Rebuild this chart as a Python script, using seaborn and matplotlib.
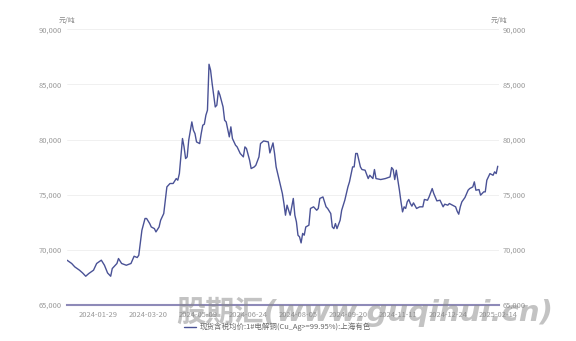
import matplotlib
matplotlib.use("Agg")
import matplotlib.pyplot as plt
import seaborn as sns
import pandas as pd
from matplotlib.ticker import FuncFormatter, FixedLocator

# trading-day index (0 = first trading day of 2024) and price
day_idx = [0, 3, 5, 8, 10, 12, 14, 17, 19, 22, 24, 26, 28, 29, 32, 33, 35, 38, 41, 43,
           45, 46, 48, 50, 51, 53, 54, 56, 57, 59, 60, 62, 64, 66, 68, 70, 71, 72, 74, 75,
           76, 77, 78, 80, 81, 82, 83, 85, 86, 87, 88, 89, 90, 91, 92, 93, 95, 96, 97, 98,
           100, 101, 102, 104, 105, 106, 108, 109, 111, 113, 114, 115, 117, 118, 120, 121, 123, 124, 126, 129,
           130, 132, 133, 134, 136, 138, 139, 140, 141, 142, 143, 145, 146, 147, 148, 149, 150, 151, 152, 153,
           155, 156, 158, 160, 161, 162, 164, 166, 167, 169, 170, 171, 172, 173, 175, 176, 178, 180, 181, 183,
           184, 185, 186, 188, 189, 191, 193, 194, 196, 197, 198, 201, 204, 207, 208, 209, 210, 211, 212, 213,
           214, 215, 216, 217, 218, 219, 220, 221, 222, 224, 226, 228, 229, 231, 232, 234, 235, 237, 239, 240,
           241, 242, 244, 245, 247, 249, 250, 251, 252, 253, 255, 257, 258, 260, 261, 262, 264, 265, 267, 268,
           269, 271, 273, 274, 275, 276]
price = [69030, 68730, 68420, 68120, 67870, 67570, 67820, 68120, 68730, 69030, 68570, 67870, 67570, 68270, 68730, 69180, 68730, 68570, 68730, 69390,
         69270, 69480, 71750, 72820, 72820, 72360, 72050, 71900, 71600, 72050, 72660, 73270, 75690, 76000, 76000, 76450, 76300, 76900, 80090, 79330,
         78270, 78420, 79940, 81600, 80840, 80540, 79780, 79630, 80540, 81300, 81390, 82210, 82660, 86840, 86300, 85090, 82960, 83120, 84420, 84030,
         82960, 81750, 81600, 80240, 81150, 80090, 79480, 79330, 78730, 78420, 79330, 79180, 78120, 77360, 77510, 77660, 78420, 79630, 79870, 79780,
         78780, 79690, 78730, 77510, 76300, 75090, 74180, 73120, 74030, 73570, 73120, 74640, 73120, 72510, 71300, 71150, 70600, 71460, 71300, 72050,
         72210, 73730, 73880, 73570, 73730, 74640, 74780, 73880, 73730, 73270, 72050, 71900, 72360, 71900, 72660, 73570, 74480, 75690, 76150, 77510,
         77510, 78730, 78730, 77510, 77270, 77210, 76450, 76750, 76450, 77270, 76450, 76360, 76450, 76600, 77450, 77270, 76360, 77210, 76300, 75390,
         74330, 73420, 73880, 73730, 74330, 74550, 74180, 73940, 74240, 73730, 73880, 73880, 74550, 74480, 74780, 75540, 75090, 74420, 74480, 74180,
         73880, 74120, 74030, 74180, 74030, 73880, 73480, 73210, 73880, 74330, 74730, 75390, 75540, 75690, 76150, 75390, 75450, 74940, 75240, 75240,
         76300, 76900, 76750, 77060, 76900, 77570]

tick_idx = [20, 52, 84, 116, 148, 180, 212, 244, 276]
tick_labels = ["2024-01-29", "2024-03-20", "2024-05-09", "2024-06-24", "2024-08-05",
               "2024-09-20", "2024-11-11", "2024-12-24", "2025-02-14"]
y_ticks = [65000, 70000, 75000, 80000, 85000, 90000]
series_name = "现货含税均价:1#电解铜(Cu_Ag>=99.95%):上海有色"
unit = "元/吨"
watermark = "股期汇(www.guqihui.cn)"

sns.set_theme(style="white")
plt.rcParams["font.family"] = ["Noto Sans CJK SC", "DejaVu Sans"]

df = pd.DataFrame({"day": day_idx, "price": price, "series": series_name})

fig = plt.figure(figsize=(5.76, 3.41), dpi=100)
ax = fig.add_axes([0.1163, 0.107, 0.7492, 0.8065])

line_color = "#4a5296"
sns.lineplot(data=df, x="day", y="price", hue="series", palette=[line_color],
             linewidth=1.0, ax=ax, legend=True)

ax.set_xlim(0, 276.5)
ax.set_ylim(65000, 90000)
ax.yaxis.set_major_locator(FixedLocator(y_ticks))
fmt = FuncFormatter(lambda v, p: f"{int(v):,}")
ax.yaxis.set_major_formatter(fmt)
ax.set_xticks(tick_idx)
ax.set_xticklabels(tick_labels)
ax.set_xlabel("")
ax.set_ylabel("")
ax.grid(axis="y", color="#eeeeee", linewidth=0.6)
ax.grid(axis="x", visible=False)
for s in ["left", "right", "top"]:
    ax.spines[s].set_visible(False)
ax.spines["bottom"].set_color("#8e8ab8")
ax.spines["bottom"].set_linewidth(1.5)
ax.tick_params(axis="y", length=0, pad=3.6, labelsize=5.4, labelcolor="#999999")
ax.tick_params(axis="x", length=0, pad=4.5, labelsize=5.4, labelcolor="#999999")

ax2 = ax.twinx()
ax2.set_ylim(ax.get_ylim())
ax2.yaxis.set_major_locator(FixedLocator(y_ticks))
ax2.yaxis.set_major_formatter(fmt)
for s in ["left", "right", "top", "bottom"]:
    ax2.spines[s].set_visible(False)
ax2.tick_params(axis="y", length=0, pad=3.0, labelsize=5.4, labelcolor="#999999")
ax2.grid(False)

fig.text(59 / 576, 1 - 20.5 / 341, unit, fontsize=5.0, color="#888888", ha="left", va="center")
fig.text(491 / 576, 1 - 20.5 / 341, unit, fontsize=5.0, color="#888888", ha="left", va="center")

handles, labels = ax.get_legend_handles_labels()
ax.legend(handles, labels, loc="center", bbox_to_anchor=(277.5 / 576, 14 / 341),
          bbox_transform=fig.transFigure, frameon=False, fontsize=5.4,
          handlelength=1.6, handletextpad=0.5, labelcolor="#666666")

fig.text(365 / 576, 29 / 341, watermark, fontsize=21, fontweight="bold", fontstyle="italic",
         color="#888888", alpha=0.5, ha="center", va="center", zorder=10,
         family=["DejaVu Sans", "Noto Sans CJK SC"])

fig.savefig("out.png", dpi=100)
